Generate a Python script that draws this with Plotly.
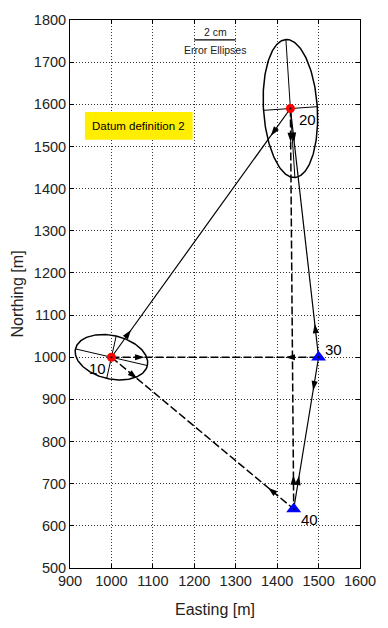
import numpy as np
import plotly.graph_objects as go

# Network stations (easting / northing in metres)
stations = ["10", "20", "30", "40"]
easting = [1000, 1432, 1500, 1440]
northing = [1000, 1590, 1000, 640]
datum_points = ["10", "20"]          # red circles
new_points = ["30", "40"]            # blue triangles

# Observed connections (observed in both directions)
obs_a = ["10", "10", "10", "20", "20", "30"]
obs_b = ["20", "30", "40", "30", "40", "40"]
obs_dashed = [False, True, True, False, True, False]

# Error ellipses (semi-axes in cm, orientation in degrees from east)
ell_station = ["10", "20"]
ell_a_cm = [1.78, 3.28]
ell_b_cm = [1.03, 1.30]
ell_theta = [-12.8, 93.8]
metres_per_cm = 50.0
scale_bar_cm = 2

x_range = [900, 1600]
y_range = [500, 1800]
x_ticks = [900, 1000, 1100, 1200, 1300, 1400, 1500, 1600]
y_ticks = [500, 600, 700, 800, 900, 1000, 1100, 1200, 1300, 1400, 1500, 1600, 1700, 1800]

W, H = 388, 628
M = dict(l=70, r=18, t=14, b=56)
px_x = (W - M["l"] - M["r"]) / (x_range[1] - x_range[0])
px_y = (H - M["t"] - M["b"]) / (y_range[1] - y_range[0])
FONT = "Liberation Sans, Arial, sans-serif"

pos = {s: (e, n) for s, e, n in zip(stations, easting, northing)}
fig = go.Figure()

# observation lines
for a, b, dashed in zip(obs_a, obs_b, obs_dashed):
    (xa, ya), (xb, yb) = pos[a], pos[b]
    fig.add_trace(go.Scatter(
        x=[xa, xb], y=[ya, yb], mode="lines", hoverinfo="skip",
        line=dict(color="black", width=1.5 if dashed else 1.2,
                  dash="8px,3px" if dashed else "solid")))

# arrowheads near each end, pointing towards the target station
arrow_offset = 80.0
ax, ay, aang = [], [], []
for a, b in zip(obs_a, obs_b):
    for s, t in ((a, b), (b, a)):
        (xs, ys), (xt, yt) = pos[s], pos[t]
        d = np.hypot(xt - xs, yt - ys)
        ux, uy = (xt - xs) / d, (yt - ys) / d
        ax.append(xs + ux * arrow_offset)
        ay.append(ys + uy * arrow_offset)
        aang.append(float(np.degrees(np.arctan2(ux * px_x, uy * px_y))))
fig.add_trace(go.Scatter(
    x=ax, y=ay, mode="markers", hoverinfo="skip",
    marker=dict(symbol="arrow", size=10, angle=aang, color="black",
                line=dict(width=0))))

# error ellipses with their principal axes
t = np.linspace(0, 2 * np.pi, 200)
for s, a_cm, b_cm, th in zip(ell_station, ell_a_cm, ell_b_cm, ell_theta):
    cx, cy = pos[s]
    a, b = a_cm * metres_per_cm, b_cm * metres_per_cm
    c, sn = np.cos(np.radians(th)), np.sin(np.radians(th))
    ex = cx + a * np.cos(t) * c - b * np.sin(t) * sn
    ey = cy + a * np.cos(t) * sn + b * np.sin(t) * c
    fig.add_trace(go.Scatter(x=ex, y=ey, mode="lines", hoverinfo="skip",
                             line=dict(color="black", width=1.5)))
    fig.add_trace(go.Scatter(
        x=[cx - a * c, cx + a * c, None, cx + b * sn, cx - b * sn],
        y=[cy - a * sn, cy + a * sn, None, cy - b * c, cy + b * c],
        mode="lines", hoverinfo="skip", line=dict(color="black", width=1)))

# station markers
dx = [pos[s][0] for s in datum_points]
dy = [pos[s][1] for s in datum_points]
fig.add_trace(go.Scatter(x=dx, y=dy, mode="markers", hoverinfo="skip",
                         marker=dict(symbol="circle", size=9, color="red",
                                     line=dict(width=0))))
nx = [pos[s][0] for s in new_points]
ny = [pos[s][1] for s in new_points]
fig.add_trace(go.Scatter(x=nx, y=ny, mode="markers", hoverinfo="skip",
                         marker=dict(symbol="triangle-up", size=13, color="blue",
                                     line=dict(width=0))))
fig.add_trace(go.Scatter(x=easting, y=northing, mode="markers", hoverinfo="skip",
                         marker=dict(symbol="circle", size=2, color="black")))

# station labels
label_shift = {"10": (-14, -11), "20": (17, -11), "30": (15, 8), "40": (16, -11)}
for s in stations:
    sx, sy = label_shift[s]
    fig.add_annotation(x=pos[s][0], y=pos[s][1], text=s, showarrow=False,
                       xshift=sx, yshift=sy,
                       font=dict(family=FONT, size=15, color="black"))

# ellipse scale bar
bar_len = scale_bar_cm * metres_per_cm
bar_x0, bar_y = 1200, 1753
fig.add_trace(go.Scatter(x=[bar_x0, bar_x0 + bar_len], y=[bar_y, bar_y], mode="lines",
                         hoverinfo="skip", line=dict(color="black", width=1.2)))
fig.add_annotation(x=bar_x0 + bar_len / 2, y=bar_y, text=f"{scale_bar_cm} cm",
                   showarrow=False, yanchor="bottom", yshift=0,
                   font=dict(family=FONT, size=10.5, color="#222"))
fig.add_annotation(x=bar_x0 + bar_len / 2, y=bar_y, text="Error Ellipses",
                   showarrow=False, yanchor="top", yshift=-2,
                   font=dict(family=FONT, size=10.5, color="#222"))

# datum definition box
fig.add_shape(type="rect", x0=936, x1=1196, y0=1516, y1=1582,
              fillcolor="#ffee00", line=dict(width=0), layer="above")
fig.add_annotation(x=1066, y=1549, text="Datum definition 2", showarrow=False,
                   font=dict(family=FONT, size=11.5, color="black"))

axis_common = dict(
    showgrid=True, gridcolor="#333333", gridwidth=1, griddash="1px,2px",
    showline=True, linecolor="black", linewidth=1, mirror="ticks",
    ticks="inside", ticklen=4, tickcolor="black", zeroline=False,
    tickfont=dict(family=FONT, size=14.5, color="#222"),
)
fig.update_xaxes(range=x_range, tickvals=x_ticks, **axis_common,
                 title=dict(text="Easting [m]", standoff=15,
                            font=dict(family=FONT, size=16, color="#222")))
fig.update_yaxes(range=y_range, tickvals=y_ticks, **axis_common,
                 title=dict(text="Northing [m]", standoff=6,
                            font=dict(family=FONT, size=16, color="#222")))

fig.update_layout(width=W, height=H, margin=M, showlegend=False,
                  plot_bgcolor="white", paper_bgcolor="white")
fig.write_html("out.html")
